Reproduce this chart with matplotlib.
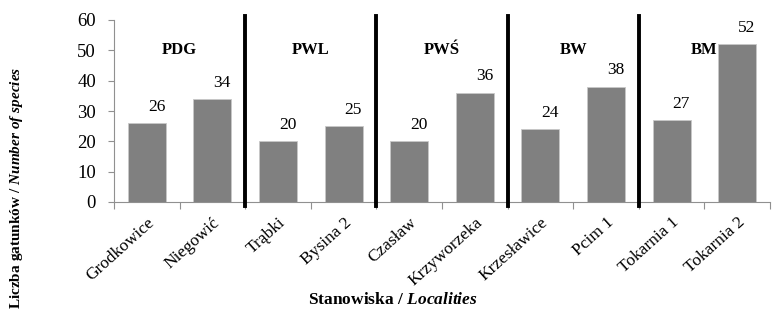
import matplotlib.pyplot as plt

plt.rcParams['font.family'] = ['Liberation Serif', 'DejaVu Serif']
plt.rcParams['mathtext.fontset'] = 'custom'
plt.rcParams['mathtext.rm'] = 'Liberation Serif'
plt.rcParams['mathtext.bf'] = 'Liberation Serif:bold'
plt.rcParams['mathtext.it'] = 'Liberation Serif:italic:bold'

stanowiska = ['Grodkowice', 'Niegowić', 'Trąbki', 'Bysina 2', 'Czasław',
              'Krzyworzeka', 'Krzesławice', 'Pcim 1', 'Tokarnia 1', 'Tokarnia 2']
liczba = [26, 34, 20, 25, 20, 36, 24, 38, 27, 52]
grupy = ['PDG', 'PWL', 'PWŚ', 'BW', 'BM']

fig = plt.figure(figsize=(7.75, 3.18), dpi=100)
ax = fig.add_axes([114/775, 1 - 202/318, (770-114)/775, (202-20)/318])

x = list(range(len(liczba)))
ax.bar(x, liczba, width=0.58, color='#808080', edgecolor='#c8c8c8', linewidth=0.6, zorder=2)

for xi, v in zip(x, liczba):
    ax.annotate(str(v), (xi, v), xytext=(7, 6), textcoords='offset points',
                ha='center', va='bottom', fontsize=12.5)

# granice grup
for i in range(1, len(grupy)):
    ax.axvline(2*i - 0.5, ymin=-0.02, ymax=1.02, color='black', lw=2.8, clip_on=False, zorder=3)

for i, g in enumerate(grupy):
    ax.text(2*i + 0.5, 50, g, ha='center', va='center', fontsize=12, fontweight='bold')

ax.set_xlim(-0.5, 9.5)
ax.set_ylim(0, 60)
ax.set_yticks(range(0, 61, 10))
ax.tick_params(axis='y', labelsize=13.5, color='#909090', length=4, pad=9)
ax.set_xticks([i - 0.5 for i in range(11)])
ax.set_xticklabels([])
ax.set_xticks(x, minor=True)
ax.set_xticklabels(stanowiska, minor=True, rotation=42, ha='right',
                   rotation_mode='anchor', fontsize=12.5)
ax.tick_params(axis='x', which='major', color='#909090', length=5)
ax.tick_params(axis='x', which='minor', length=0, pad=9)

for s in ['top', 'right']:
    ax.spines[s].set_visible(False)
ax.spines['left'].set_color('#909090')
ax.spines['bottom'].set_color('#909090')

fig.text(17/775, 1 - 188/318, r'$\mathbf{Liczba\ gatunków\ /\ }\mathit{Number\ of\ species}$',
         rotation=90, ha='center', va='center', fontsize=11)
fig.text(393/775, 1 - 300/318, r'$\mathbf{Stanowiska\ /\ }\mathit{Localities}$',
         ha='center', va='center', fontsize=12.5)

fig.savefig('out.png', dpi=100)
